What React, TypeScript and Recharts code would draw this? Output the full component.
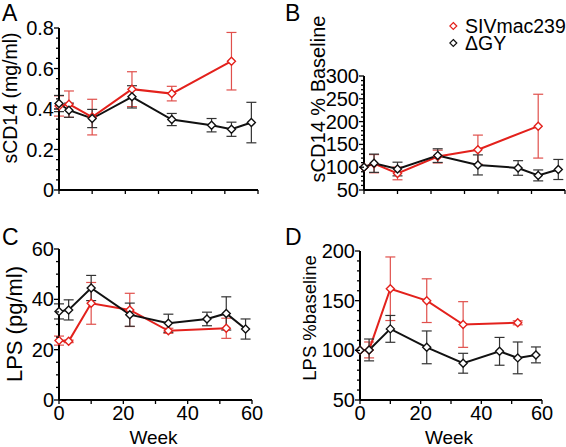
import { LineChart, Line, XAxis, YAxis, ErrorBar, Legend } from "recharts";

const FONT = "Arial, 'Liberation Sans', sans-serif";
const RED = "#e3211c";
const RED_ERR = "#e0504c";
const BLACK = "#111111";
const BLACK_ERR = "#333333";

const seriesNames = ["SIVmac239", "ΔGY"];
const panelLetters = ["A", "B", "C", "D"];

const weeks = [0, 3, 10, 22, 34, 46, 52, 58];
const sivWeeks = [0, 3, 10, 22, 34, 52];
const weekTicks = [0, 10, 20, 30, 40, 50, 60];
const weekLabels = [0, 20, 40, 60];

// A: sCD14 (mg/ml)
const sCD14Siv = [0.415, 0.424, 0.36, 0.498, 0.476, 0.636];
const sCD14SivErr = [0.05, 0.065, 0.088, 0.086, 0.036, 0.142];
const sCD14Gy = [0.427, 0.394, 0.353, 0.46, 0.348, 0.32, 0.3, 0.333];
const sCD14GyErr = [0.04, 0.035, 0.045, 0.055, 0.03, 0.033, 0.035, 0.1];
const sCD14Ticks = [0, 0.05, 0.1, 0.15, 0.2, 0.25, 0.3, 0.35, 0.4, 0.45, 0.5, 0.55, 0.6, 0.65, 0.7, 0.75, 0.8];
const sCD14Labels = [0, 0.2, 0.4, 0.6, 0.8];

// B: sCD14 % baseline
const sCD14PctSiv = [100, 107.7, 86.4, 123.3, 138.4, 190];
const sCD14PctSivErr = [null, 20, 14, 14, 32, 70];
const sCD14PctGy = [100, 108.7, 96, 125.4, 105, 98.3, 82, 95];
const sCD14PctGyErr = [null, 20, 15, 15, 22, 16, 12, 22];
const sCD14PctTicks = [50, 60, 70, 80, 90, 100, 110, 120, 130, 140, 150, 160, 170, 180, 190, 200, 210, 220, 230, 240, 250, 260, 270, 280, 290, 300];
const sCD14PctLabels = [50, 100, 150, 200, 250, 300];

// C: LPS (pg/ml)
const lpsSiv = [23.6, 23.3, 38.4, 35.8, 27.5, 28.5];
const lpsSivErr = [1.8, 0.5, 8.3, 6.6, 1, 4];
const lpsGy = [35.2, 35.8, 44.5, 33.9, 30.5, 32.2, 34.4, 28.2];
const lpsGyErr = [3, 4, 5, 4.6, 3.6, 2.7, 6.6, 4];
const lpsTicks = [0, 5, 10, 15, 20, 25, 30, 35, 40, 45, 50, 55, 60];
const lpsLabels = [0, 20, 40, 60];

// D: LPS % baseline
const lpsPctSiv = [100, 100.4, 162, 150, 126, 127.7];
const lpsPctSivErr = [null, 8, 32, 22, 23, 2];
const lpsPctGy = [100, 100.4, 121.6, 103, 87, 99, 92.4, 95.4];
const lpsPctGyErr = [null, 11, 13.5, 16.5, 10, 14, 16, 8];
const lpsPctTicks = [50, 60, 70, 80, 90, 100, 110, 120, 130, 140, 150, 160, 170, 180, 190, 200];
const lpsPctLabels = [50, 100, 150, 200];

const toRows = (w: number[], v: number[], e: (number | null)[]) =>
  w.map((week, i) => ({ week, v: v[i], e: e[i] }));

const Diamond = (props: any) => {
  const { cx, cy, stroke, index } = props;
  if (cx == null || cy == null) return null;
  const r = 4;
  return (
    <polygon
      key={index}
      points={`${cx},${cy - r} ${cx + r},${cy} ${cx},${cy + r} ${cx - r},${cy}`}
      fill="#fff"
      stroke={stroke}
      strokeWidth={1.4}
    />
  );
};

const YTick = (props: any) => {
  const { x, y, payload, labels } = props;
  const major = labels.some((l: number) => Math.abs(l - payload.value) < 1e-6);
  return (
    <g>
      <line x1={x - (major ? 5 : 3)} x2={x} y1={y} y2={y} stroke="#000" strokeWidth={1.3} />
      {major && (
        <text x={x - 5} y={y + 7} textAnchor="end" fontSize={20} fontFamily={FONT} fill="#000">
          {payload.value}
        </text>
      )}
    </g>
  );
};

const XTick = (props: any) => {
  const { x, y, payload, labels } = props;
  const major = labels.includes(payload.value);
  return (
    <g>
      <line x1={x} x2={x} y1={y} y2={y + 4} stroke="#000" strokeWidth={1.3} />
      {major && (
        <text x={x} y={y + 20} textAnchor="middle" fontSize={20} fontFamily={FONT} fill="#000">
          {payload.value}
        </text>
      )}
    </g>
  );
};

const LegendContent = (props: any) => {
  const { payload } = props;
  return (
    <svg width={120} height={44} style={{ display: "block" }}>
      {(payload || []).map((p: any, i: number) => {
        const cy = 14 + i * 17;
        return (
          <g key={p.value}>
            <polygon
              points={`4.3,${cy - 3.5} 7.8,${cy} 4.3,${cy + 3.5} 0.8,${cy}`}
              fill="#fff"
              stroke={p.color}
              strokeWidth={1.2}
            />
            <text x={16} y={cy + 7} fontSize={19.5} fontFamily={FONT} fill="#000">
              {p.value}
            </text>
          </g>
        );
      })}
    </svg>
  );
};

type Row = { week: number; v: number; e: number | null };

type Panel = {
  letter: string;
  left: number;
  top: number;
  width: number;
  height: number;
  margin: { top: number; right: number; bottom: number; left: number };
  yWidth: number;
  domain: [number, number];
  yTicks: number[];
  yLabels: number[];
  xLabels: number[];
  title: string;
  titleSize: number;
  titleX: number;
  titleY: number;
  showWeek: boolean;
  siv: Row[];
  gy: Row[];
  legend: boolean;
};

const panels: Panel[] = [
  {
    letter: panelLetters[0],
    left: 0, top: 0, width: 283, height: 224,
    margin: { top: 28, right: 25, bottom: 4, left: 9 },
    yWidth: 50,
    domain: [0, 0.8], yTicks: sCD14Ticks, yLabels: sCD14Labels, xLabels: [],
    title: "sCD14 (mg/ml)", titleSize: 19.5, titleX: 10.5, titleY: 98, showWeek: false,
    siv: toRows(sivWeeks, sCD14Siv, sCD14SivErr),
    gy: toRows(weeks, sCD14Gy, sCD14GyErr),
    legend: false,
  },
  {
    letter: panelLetters[1],
    left: 283, top: 0, width: 283, height: 224,
    margin: { top: 32, right: 1, bottom: 4, left: 11 },
    yWidth: 70,
    domain: [50, 300], yTicks: sCD14PctTicks, yLabels: sCD14PctLabels, xLabels: [],
    title: "sCD14 % Baseline", titleSize: 20, titleX: 35, titleY: 99, showWeek: false,
    siv: toRows(sivWeeks, sCD14PctSiv, sCD14PctSivErr),
    gy: toRows(weeks, sCD14PctGy, sCD14PctGyErr),
    legend: true,
  },
  {
    letter: panelLetters[2],
    left: 0, top: 224, width: 283, height: 223,
    margin: { top: 25, right: 31, bottom: 17, left: 9 },
    yWidth: 50,
    domain: [0, 60], yTicks: lpsTicks, yLabels: lpsLabels, xLabels: weekLabels,
    title: "LPS (pg/ml)", titleSize: 22, titleX: 14.5, titleY: 100, showWeek: true,
    siv: toRows(sivWeeks, lpsSiv, lpsSivErr),
    gy: toRows(weeks, lpsGy, lpsGyErr),
    legend: false,
  },
  {
    letter: panelLetters[3],
    left: 283, top: 224, width: 283, height: 223,
    margin: { top: 27, right: 24, bottom: 17, left: 7 },
    yWidth: 70,
    domain: [50, 200], yTicks: lpsPctTicks, yLabels: lpsPctLabels, xLabels: weekLabels,
    title: "LPS %baseline", titleSize: 18.5, titleX: 26.5, titleY: 94, showWeek: true,
    siv: toRows(sivWeeks, lpsPctSiv, lpsPctSivErr),
    gy: toRows(weeks, lpsPctGy, lpsPctGyErr),
    legend: false,
  },
];

function PanelChart({ p }: { p: Panel }) {
  const plotLeft = p.margin.left + p.yWidth;
  const plotRight = p.width - p.margin.right;
  return (
    <div style={{ position: "absolute", left: p.left, top: p.top, width: p.width, height: p.height }}>
      <LineChart width={p.width} height={p.height} margin={p.margin}>
        <XAxis
          type="number"
          dataKey="week"
          domain={[0, 60]}
          ticks={weekTicks}
          interval={0}
          height={30}
          tickSize={0}
          tickMargin={0}
          tickLine={false}
          axisLine={{ stroke: "#000", strokeWidth: 2 }}
          tick={<XTick labels={p.xLabels} />}
        />
        <YAxis
          type="number"
          domain={p.domain}
          ticks={p.yTicks}
          interval={0}
          width={p.yWidth}
          tickSize={0}
          tickMargin={0}
          tickLine={false}
          allowDataOverflow
          axisLine={{ stroke: "#000", strokeWidth: 2 }}
          tick={<YTick labels={p.yLabels} />}
        />
        {p.legend && (
          <Legend
            verticalAlign="top"
            align="left"
            content={<LegendContent />}
            wrapperStyle={{ left: 166, top: 12, width: 120, height: 44 }}
          />
        )}
        <Line
          data={p.siv}
          dataKey="v"
          name={seriesNames[0]}
          stroke={RED}
          strokeWidth={2}
          dot={<Diamond />}
          isAnimationActive={false}
        >
          <ErrorBar dataKey="e" width={5} stroke={RED_ERR} strokeWidth={1.2} direction="y" />
        </Line>
        <Line
          data={p.gy}
          dataKey="v"
          name={seriesNames[1]}
          stroke={BLACK}
          strokeWidth={2}
          dot={<Diamond />}
          isAnimationActive={false}
        >
          <ErrorBar dataKey="e" width={5} stroke={BLACK_ERR} strokeWidth={1.2} direction="y" />
        </Line>
      </LineChart>
      <div
        style={{
          position: "absolute",
          left: p.titleX,
          top: p.titleY,
          transform: "translate(-50%, -50%) rotate(-90deg)",
          whiteSpace: "nowrap",
          fontFamily: FONT,
          fontSize: p.titleSize,
          lineHeight: 1,
          color: "#000",
        }}
      >
        {p.title}
      </div>
      {p.showWeek && (
        <div
          style={{
            position: "absolute",
            left: (plotLeft + plotRight) / 2 - 2,
            top: p.height - 19,
            transform: "translateX(-50%)",
            whiteSpace: "nowrap",
            fontFamily: FONT,
            fontSize: 19,
            lineHeight: 1,
            color: "#000",
          }}
        >
          Week
        </div>
      )}
      <div
        style={{
          position: "absolute",
          left: 2,
          top: 2,
          fontFamily: FONT,
          fontSize: 23,
          lineHeight: 1,
          color: "#000",
        }}
      >
        {p.letter}
      </div>
    </div>
  );
}

export default function App() {
  return (
    <div style={{ position: "absolute", left: 0, top: 0, width: 566, height: 447, background: "#fff", overflow: "hidden" }}>
      {panels.map((p) => (
        <PanelChart key={p.letter} p={p} />
      ))}
    </div>
  );
}
